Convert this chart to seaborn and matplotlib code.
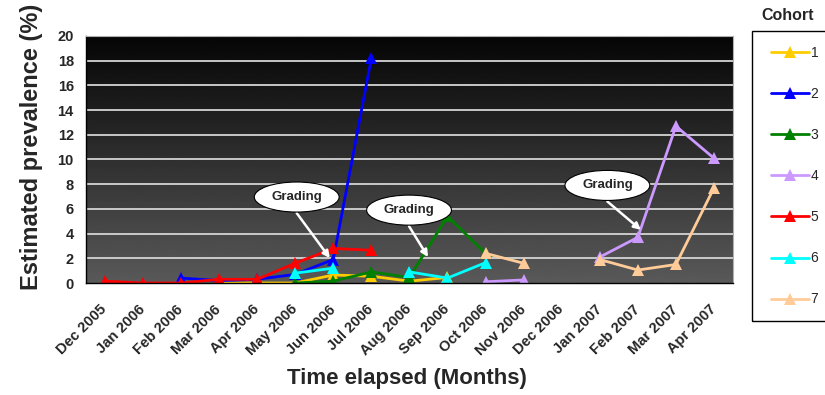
import matplotlib
matplotlib.use("Agg")
import matplotlib.pyplot as plt
import matplotlib.transforms as mtransforms
import numpy as np
import pandas as pd
import seaborn as sns
from matplotlib.lines import Line2D
from matplotlib.patches import Rectangle

nan = np.nan

months = ["Dec 2005", "Jan 2006", "Feb 2006", "Mar 2006", "Apr 2006", "May 2006",
          "Jun 2006", "Jul 2006", "Aug 2006", "Sep 2006", "Oct 2006", "Nov 2006",
          "Dec 2006", "Jan 2007", "Feb 2007", "Mar 2007", "Apr 2007"]

# estimated prevalence (%) per month, nan = no sample that month
cohort_1 = [nan, nan, nan, 0.0, 0.0, 0.0, 0.65, 0.55, 0.15, 0.45, nan, nan, nan, nan, nan, nan, nan]
cohort_2 = [nan, nan, 0.4, 0.2, 0.3, 0.7, 1.9, 18.2, nan, nan, nan, nan, nan, nan, nan, nan, nan]
cohort_3 = [nan, nan, nan, nan, nan, 0.0, 0.15, 0.9, 0.45, 5.4, 2.4, nan, nan, nan, nan, nan, nan]
cohort_4 = [nan, nan, nan, nan, nan, nan, nan, nan, nan, nan, 0.1, 0.25, nan, 2.1, 3.7, 12.7, 10.1]
cohort_5 = [0.15, 0.0, 0.0, 0.3, 0.3, 1.6, 2.8, 2.65, nan, nan, nan, nan, nan, nan, nan, nan, nan]
cohort_6 = [nan, nan, nan, nan, nan, 0.8, 1.2, nan, 0.9, 0.4, 1.65, nan, nan, nan, nan, nan, nan]
cohort_7 = [nan, nan, nan, nan, nan, nan, nan, nan, nan, nan, 2.4, 1.6, nan, 1.9, 1.05, 1.5, 7.7]

cohort_labels = ["1", "2", "3", "4", "5", "6", "7"]
cohort_colors = ["#FFCC00", "#0000FF", "#008000", "#CC99FF", "#FF0000", "#00FFFF", "#FFCC99"]

# long table; a new segment starts after every gap so lines break like Excel
records = []
for label, values in zip(cohort_labels, [cohort_1, cohort_2, cohort_3, cohort_4,
                                         cohort_5, cohort_6, cohort_7]):
    seg = 0
    for i, v in enumerate(values):
        if np.isnan(v):
            seg += 1
            continue
        records.append({"month": i, "prevalence": v, "cohort": label,
                        "segment": f"{label}-{seg}"})
df = pd.DataFrame(records)

sns.set_style("white")
plt.rcParams["font.family"] = ["Liberation Sans", "DejaVu Sans"]

fig = plt.figure(figsize=(8.25, 3.95), dpi=100)
fig.subplots_adjust(left=0.104, right=0.8885, bottom=0.2835, top=0.909)
ax = fig.add_subplot(111)

# dark gradient plot area
grad = np.linspace(0.02, 0.35, 256)[:, None]
ax.imshow(grad, extent=(-0.5, 16.5, 0, 20), aspect="auto", cmap="gray",
          vmin=0, vmax=1, origin="upper", zorder=-2)

for yv in range(2, 20, 2):
    ax.axhline(yv, color="#d4d4d4", lw=1.3, zorder=-1)

sns.lineplot(data=df, x="month", y="prevalence", hue="cohort", units="segment",
             estimator=None, sort=False, palette=dict(zip(cohort_labels, cohort_colors)),
             hue_order=cohort_labels, marker="^", markersize=9, markeredgewidth=0,
             linewidth=2, legend=False, ax=ax)

ax.set_xlim(-0.5, 16.5)
ax.set_ylim(0, 20)
ax.set_yticks(range(0, 21, 2))
ax.set_xticks(range(len(months)))
ax.set_xticklabels(months, rotation=45, ha="right", va="center", rotation_mode="anchor",
                   fontsize=10.5, fontweight="bold")
shift = mtransforms.ScaledTranslation(-7 / 100, 0, fig.dpi_scale_trans)
for lab in ax.get_xticklabels():
    lab.set_transform(lab.get_transform() + shift)
ax.set_xticks(np.arange(-0.5, 17, 1), minor=True)
ax.tick_params(axis="x", which="major", length=0, pad=17.5)
ax.tick_params(axis="x", which="minor", length=3.5, width=1, color="black", direction="out")
ax.tick_params(axis="y", length=3.6, width=1, color="black", direction="out", pad=5,
               labelsize=10.5)
for lab in ax.get_yticklabels():
    lab.set_fontweight("bold")

for side in ["left", "bottom"]:
    ax.spines[side].set_color("black")
    ax.spines[side].set_linewidth(1)
for side in ["top", "right"]:
    ax.spines[side].set_color("#b0b0b0")
    ax.spines[side].set_linewidth(0.8)

ax.set_xlabel("Time elapsed (Months)", fontsize=16, fontweight="bold")
ax.set_ylabel("Estimated prevalence (%)", fontsize=17, fontweight="bold")
ax.xaxis.set_label_coords(0.496, -0.345)
ax.yaxis.set_label_coords(-0.066, 0.55)

# "Grading" call-outs
for cx, cy, tx, ty in [(5.04, 6.96, 5.91, 2.02), (7.99, 5.9, 8.49, 2.1),
                       (13.2, 7.9, 14.08, 4.3)]:
    ax.annotate("", xy=(tx, ty), xytext=(cx, cy - 1.3),
                arrowprops=dict(arrowstyle="-|>", color="white", lw=1.8,
                                mutation_scale=10, shrinkA=0, shrinkB=0), zorder=4)
    ax.text(cx, cy, "Grading", ha="center", va="center", fontsize=9.5, fontweight="bold",
            bbox=dict(boxstyle="ellipse,pad=0.35", fc="white", ec="black", lw=0.8), zorder=5)

# legend outside on the right, box runs past the figure edge
fig.patches.append(Rectangle((752 / 825, 1 - 320.7 / 395), 0.2, 290 / 395,
                             transform=fig.transFigure, fill=False, ec="black", lw=1))
handles = [Line2D([0], [0], color=c, lw=2, marker="^", markersize=8, markeredgewidth=0)
           for c in cohort_colors]
fig.legend(handles, cohort_labels, loc="upper left", bbox_to_anchor=(771 / 825, 1 - 46 / 395),
           frameon=False, handlelength=2.75, handletextpad=0.1, labelspacing=1.95,
           borderpad=0, borderaxespad=0, fontsize=10)
fig.text(788 / 825, 1 - 16 / 395, "Cohort", ha="center", va="center", fontsize=11.5,
         fontweight="bold")

fig.savefig("out.png", dpi=100)
